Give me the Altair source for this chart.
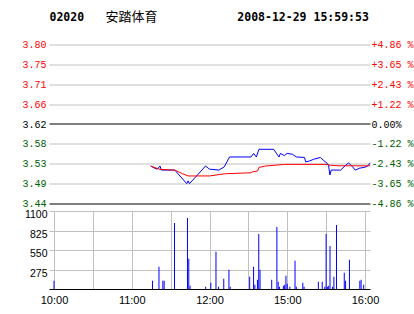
import altair as alt
import pandas as pd

# ---------------- data ----------------
prev_close = 3.62
code = "02020"
name = "安踏体育"
stamp = "2008-12-29 15:59:53"

# trading minutes since 10:00 (12:30 joins 14:30)
price_min = [76, 79, 81, 83, 84, 94, 103, 104, 105, 111, 117, 120, 127, 131, 135,
             151, 153, 155, 157, 168, 171, 172, 173, 176, 178, 182, 185, 191, 192,
             195, 198, 203, 205, 208, 209, 210, 211, 218, 222, 224, 227, 229, 232,
             237, 239, 240]
price_val = [3.527, 3.522, 3.520, 3.527, 3.518, 3.518, 3.488, 3.494, 3.488, 3.507,
             3.527, 3.520, 3.518, 3.525, 3.547, 3.547, 3.555, 3.547, 3.564, 3.564,
             3.551, 3.547, 3.555, 3.550, 3.555, 3.553, 3.547, 3.546, 3.536, 3.5385,
             3.542, 3.546, 3.540, 3.533, 3.529, 3.507, 3.518, 3.518, 3.529, 3.534,
             3.525, 3.518, 3.522, 3.525, 3.529, 3.534]

avg_min = [76, 83, 94, 99, 104, 120, 132, 151, 152, 156, 157, 162, 176, 208, 209, 216, 240]
avg_val = [3.527, 3.5195, 3.518, 3.511, 3.505, 3.505, 3.510, 3.512, 3.514, 3.516,
           3.524, 3.527, 3.5306, 3.5306, 3.529, 3.5275, 3.5275]

vol_min = [0, 76, 81, 84, 85, 93, 103, 104, 105, 117, 121, 125, 127, 131, 135, 136,
           151, 154, 155, 157, 158, 159, 168, 172, 173, 174, 177, 178, 179, 180, 182,
           186, 187, 192, 193, 204, 207, 209, 210, 211, 212, 213, 215, 216, 218, 224,
           225, 228, 236, 237, 239]
vol_val = [117, 117, 313, 117, 117, 931, 1002, 426, 46, 32, 89, 524, 32, 145, 271, 30,
           173, 313, 60, 131, 777, 271, 131, 875, 103, 30, 46, 60, 187, 75, 32,
           398, 30, 89, 30, 103, 103, 30, 777, 30, 46, 608, 32, 173, 903, 229,
           117, 412, 117, 131, 60]

price_ticks = [3.444, 3.488, 3.532, 3.576, 3.62, 3.664, 3.708, 3.752, 3.796]
vol_ticks = [0, 275, 550, 825, 1100]
grid_minutes = [0, 30, 60, 90, 120, 150, 180, 210, 240]
time_ticks = [0, 60, 120, 180, 240]
time_labels = ["10:00", "11:00", "12:00", "15:00", "16:00"]

price_df = pd.DataFrame({"m": price_min, "p": price_val})
avg_df = pd.DataFrame({"m": avg_min, "p": avg_val})
vol_df = pd.DataFrame({"m": vol_min, "v": vol_val})

W = 321
GRID = "#C0C0C0"
GREEN = "#006000"
MONO = "Liberation Mono"
SANS = "Liberation Sans"

time_expr = " : ".join(
    [f"datum.value == {t} ? '{l}'" for t, l in zip(time_ticks, time_labels)]) + " : ''"

near_pc = f"abs(datum.value - {prev_close}) < 0.001"
color_expr = f"{near_pc} ? 'black' : (datum.value > {prev_close} ? 'red' : '{GREEN}')"
pct_expr = (f"{near_pc} ? '\u00a00.00%' : (datum.value > {prev_close} ? '+' : '-') + "
            f"format(abs(datum.value - {prev_close}) / {prev_close} * 100, '.2f') + ' %'")

xscale = alt.Scale(domain=[0, 240], nice=False, zero=False)
yscale = alt.Scale(domain=[price_ticks[0], price_ticks[-1]], nice=False, zero=False)

x_hidden = alt.X("m:Q", scale=xscale, title=None,
                 axis=alt.Axis(values=grid_minutes, labels=False, ticks=False, domain=False,
                               grid=True, gridColor=GRID, gridWidth=1))

blue = alt.Chart(price_df).mark_line(color="#0000FF", strokeWidth=1, interpolate="linear").encode(
    x=x_hidden,
    y=alt.Y("p:Q", scale=yscale, title=None,
            axis=alt.Axis(orient="left", values=price_ticks, format=".2f", grid=True,
                          gridColor={"expr": f"{near_pc} || datum.value < 3.45 ? 'black' : '{GRID}'"},
                          gridWidth=1, domain=False, ticks=False, labelPadding=3,
                          labelFont=MONO, labelFontSize=10,
                          labelColor={"expr": color_expr}, minExtent=49))
)

red = alt.Chart(avg_df).mark_line(color="#FF0000", strokeWidth=1).encode(
    x=alt.X("m:Q", scale=xscale, title=None, axis=None),
    y=alt.Y("p:Q", scale=yscale, title=None,
            axis=alt.Axis(orient="right", values=price_ticks, grid=False, domain=False,
                          ticks=False, labelPadding=1, labelFont=MONO, labelFontSize=10,
                          labelExpr=pct_expr, labelColor={"expr": color_expr}))
)

hdr_code = alt.Chart(pd.DataFrame({"t": [code]})).mark_text(
    font="DejaVu Sans Mono", fontWeight="bold", fontSize=11.5, align="left",
    baseline="alphabetic", color="black").encode(
    text="t:N", x=alt.value(0.5), y=alt.value(-24))
hdr_name = alt.Chart(pd.DataFrame({"t": [name]})).mark_text(
    font="Noto Sans CJK SC", fontSize=13, align="left", baseline="alphabetic",
    color="black").encode(text="t:N", x=alt.value(56.5), y=alt.value(-24))
hdr_time = alt.Chart(pd.DataFrame({"t": [stamp]})).mark_text(
    font="DejaVu Sans Mono", fontWeight="bold", fontSize=11.5, align="left",
    baseline="alphabetic", color="black").encode(
    text="t:N", x=alt.value(188.3), y=alt.value(-24))

price_panel = alt.layer(blue, red, hdr_code, hdr_name, hdr_time).resolve_axis(
    y="independent").properties(width=W, height=159)

vol_panel = alt.Chart(vol_df).mark_bar(color="#0000FF", size=1).encode(
    x=alt.X("m:Q", scale=xscale, title=None,
            axis=alt.Axis(values=grid_minutes, labelExpr=time_expr, grid=True,
                          gridColor=GRID, domain=False, ticks=False, labelPadding=5,
                          labelFont=SANS, labelFontSize=11, labelColor="black",
                          labelFlush=False, labelAngle=0)),
    y=alt.Y("v:Q", scale=alt.Scale(domain=[0, 1100], nice=False), title=None,
            axis=alt.Axis(values=vol_ticks,
                          labelExpr="datum.value == 0 ? '' : '' + datum.value",
                          grid=True,
                          gridColor={"expr": f"datum.value == 0 ? 'black' : '{GRID}'"},
                          domain=False, ticks=False, labelPadding=2, labelOffset=3.5,
                          labelFont=SANS, labelFontSize=10.5, labelColor="black",
                          minExtent=49))
).properties(width=W, height=78)

chart = alt.vconcat(price_panel, vol_panel, spacing=7.5, bounds="flush").properties(
    padding={"left": 0, "top": 10.5, "right": 0, "bottom": 0},
    background="white"
).configure_view(strokeWidth=0)

chart.save("out.html", embed_options={"renderer": "svg", "actions": False})
